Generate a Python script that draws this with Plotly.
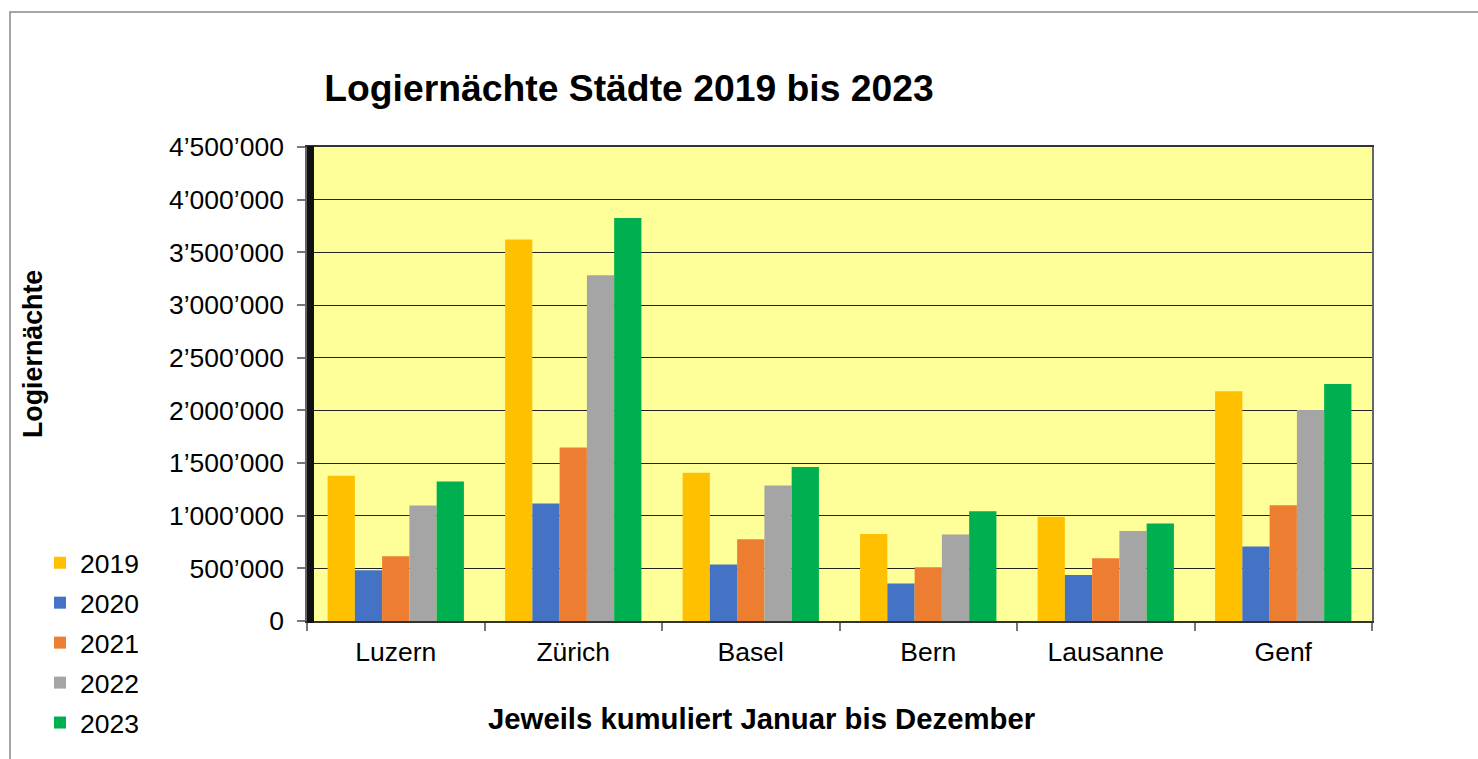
import plotly.graph_objects as go

cities = ["Luzern", "Zürich", "Basel", "Bern", "Lausanne", "Genf"]
years = ["2019", "2020", "2021", "2022", "2023"]
v2019 = [1378000, 3622000, 1407000, 827000, 989000, 2181000]
v2020 = [482000, 1116000, 536000, 355000, 437000, 707000]
v2021 = [615000, 1648000, 777000, 510000, 596000, 1100000]
v2022 = [1097000, 3283000, 1287000, 821000, 855000, 2003000]
v2023 = [1325000, 3825000, 1461000, 1043000, 926000, 2250000]
colors = ["#FFC000", "#4472C4", "#ED7D31", "#A5A5A5", "#00B050"]
series = [v2019, v2020, v2021, v2022, v2023]
ytickvals = [0, 500000, 1000000, 1500000, 2000000, 2500000, 3000000, 3500000, 4000000, 4500000]

FONT = "Arial, 'Liberation Sans', sans-serif"
FS = 26.5
W, H = 1478, 759
L, R, T, B = 307, 106, 147, 138
PW = W - L - R
PH = H - T - B

def px_x(p):
    return (p - L) / PW

def px_y(p):
    return (H - B - p) / PH

fig = go.Figure()
for name, vals, col in zip(years, series, colors):
    fig.add_trace(go.Bar(x=cities, y=vals, name=name, marker=dict(color=col, line=dict(width=0)),
                         legendgroup=name))

fig.update_layout(
    width=W, height=H,
    margin=dict(l=L, r=R, t=T, b=B),
    paper_bgcolor="white",
    plot_bgcolor="#FFFF99",
    barmode="group",
    bargap=0.232,
    bargroupgap=0,
    separators=".’",
    font=dict(family=FONT, size=FS, color="black"),
    title=dict(text="<b>Logiernächte Städte 2019 bis 2023</b>", x=629 / W, xref="container",
               xanchor="center", y=1 - 88 / H, yref="container", yanchor="middle",
               font=dict(family=FONT, size=37.3, color="black")),
    legend=dict(xref="container", yref="container", x=40 / W, y=1 - 539 / H,
                xanchor="left", yanchor="top", font=dict(family=FONT, size=FS),
                tracegroupgap=2.5, bgcolor="rgba(0,0,0,0)"),
    showlegend=True,
)

fig.update_xaxes(
    showline=True, linecolor="#333333", linewidth=1.5, mirror=True,
    ticks="outside", tickson="boundaries", ticklen=8, tickcolor="#777777", tickwidth=1.5,
    showgrid=False, ticklabelstandoff=6,
    tickfont=dict(family=FONT, size=FS),
)
fig.update_yaxes(
    range=[0, 4500000], tickvals=ytickvals, tickformat=",d",
    showline=True, linecolor="#666666", linewidth=1.5, mirror=True,
    ticks="outside", ticklen=8, tickcolor="#777777", tickwidth=1.5,
    showgrid=True, gridcolor="#222222", gridwidth=1.3,
    zeroline=False, ticklabelstandoff=8,
    tickfont=dict(family=FONT, size=FS),
    minor=dict(ticks="inside", ticklen=7, dtick=10000, tickcolor="#111111", tickwidth=2.5, showgrid=False),
)

fig.add_annotation(text="<b>Jeweils kumuliert Januar bis Dezember</b>", xref="paper", yref="paper",
                   x=px_x(761), y=px_y(718), showarrow=False, xanchor="center", yanchor="middle",
                   font=dict(family=FONT, size=29.3, color="black"))
fig.add_annotation(text="<b>Logiernächte</b>", xref="paper", yref="paper",
                   x=px_x(33), y=px_y(354), showarrow=False, xanchor="center", yanchor="middle",
                   textangle=-90, font=dict(family=FONT, size=26.8, color="black"))

fig.add_shape(type="rect", xref="paper", yref="paper",
              x0=px_x(10), x1=px_x(W + 20), y0=px_y(H + 20), y1=px_y(12),
              line=dict(color="#888888", width=1.5), fillcolor="rgba(0,0,0,0)", layer="below")

fig.write_html("out.html")
